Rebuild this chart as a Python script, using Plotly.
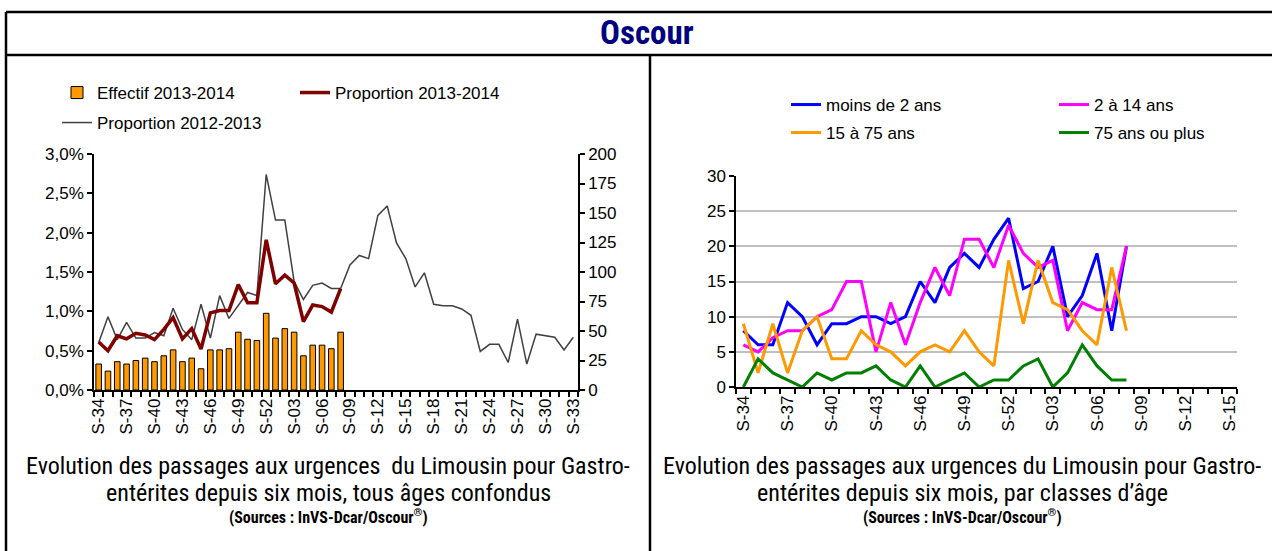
import plotly.graph_objects as go

W, H = 1272, 551

# ---------------- data ----------------
weeks_left = ['S-34', 'S-35', 'S-36', 'S-37', 'S-38', 'S-39', 'S-40', 'S-41', 'S-42', 'S-43',
              'S-44', 'S-45', 'S-46', 'S-47', 'S-48', 'S-49', 'S-50', 'S-51', 'S-52', 'S-01',
              'S-02', 'S-03', 'S-04', 'S-05', 'S-06', 'S-07', 'S-08', 'S-09', 'S-10', 'S-11',
              'S-12', 'S-13', 'S-14', 'S-15', 'S-16', 'S-17', 'S-18', 'S-19', 'S-20', 'S-21',
              'S-22', 'S-23', 'S-24', 'S-25', 'S-26', 'S-27', 'S-28', 'S-29', 'S-30', 'S-31',
              'S-32', 'S-33']
weeks_right = weeks_left[:34]

effectif_2013_2014 = [22, 16, 24, 22, 25, 27, 24, 29, 34, 24, 27, 18, 34, 34, 35, 49, 43, 42,
                      65, 44, 52, 49, 29, 38, 38, 35, 49]
proportion_2013_2014 = [0.61, 0.50, 0.69, 0.65, 0.72, 0.70, 0.64, 0.77, 0.92, 0.65, 0.78, 0.52,
                        0.98, 1.01, 1.01, 1.34, 1.11, 1.11, 1.91, 1.35, 1.46, 1.36, 0.87, 1.08,
                        1.06, 0.99, 1.29]
proportion_2012_2013 = [0.60, 0.93, 0.64, 0.86, 0.66, 0.66, 0.73, 0.69, 1.04, 0.77, 0.64, 1.09,
                        0.66, 1.20, 0.91, 1.07, 1.24, 1.20, 2.74, 2.16, 2.16, 1.38, 1.15, 1.33,
                        1.36, 1.29, 1.29, 1.59, 1.71, 1.67, 2.22, 2.34, 1.87, 1.67, 1.31, 1.49,
                        1.09, 1.07, 1.07, 1.03, 0.95, 0.49, 0.58, 0.58, 0.35, 0.90, 0.33, 0.71,
                        0.69, 0.67, 0.51, 0.67]

moins_2_ans = [8, 6, 6, 12, 10, 6, 9, 9, 10, 10, 9, 10, 15, 12, 17, 19, 17, 21, 24, 14, 15, 20,
               10, 13, 19, 8, 20]
de_2_a_14_ans = [6, 5, 7, 8, 8, 10, 11, 15, 15, 5, 12, 6, 12, 17, 13, 21, 21, 17, 23, 19, 17, 18,
                 8, 12, 11, 11, 20]
de_15_a_75_ans = [9, 2, 9, 2, 8, 10, 4, 4, 8, 6, 5, 3, 5, 6, 5, 8, 5, 3, 18, 9, 18, 12, 11, 8, 6,
                  17, 8]
plus_75_ans = [0, 4, 2, 1, 0, 2, 1, 2, 2, 3, 1, 0, 3, 0, 1, 2, 0, 1, 1, 3, 4, 0, 2, 6, 3, 1, 1]

left_ticks = [w if i % 3 == 0 else '' for i, w in enumerate(weeks_left)]
right_ticks = [w if i % 3 == 0 else '' for i, w in enumerate(weeks_right)]

caption_left = ['Evolution des passages aux urgences  du Limousin pour Gastro-',
                'entérites depuis six mois, tous âges confondus']
caption_right = ['Evolution des passages aux urgences du Limousin pour Gastro-',
                 'entérites depuis six mois, par classes d’âge']
source_text = '(Sources : InVS-Dcar/Oscour<sup>®</sup>)'

# ---------------- helpers ----------------
def px_x(x):
    return x / W

def px_y(y):
    return 1 - y / H

TICK_FONT = dict(family='Liberation Sans, Arial, sans-serif', size=17, color='black')
NARROW = 'Roboto Condensed, Liberation Sans Narrow, DejaVu Sans Condensed, Liberation Sans, sans-serif'

fig = go.Figure()

# ---------------- left chart ----------------
fig.add_trace(go.Bar(x=weeks_left[:len(effectif_2013_2014)], y=effectif_2013_2014,
                     name='Effectif 2013-2014', marker=dict(color='#FF9900', line=dict(color='black', width=1)),
                     width=0.6, xaxis='x', yaxis='y', legend='legend'))
fig.add_trace(go.Scatter(x=weeks_left, y=proportion_2012_2013, name='Proportion 2012-2013',
                         mode='lines', line=dict(color='#404040', width=1.5),
                         xaxis='x', yaxis='y2', legend='legend2'))
fig.add_trace(go.Scatter(x=weeks_left[:len(proportion_2013_2014)], y=proportion_2013_2014,
                         name='Proportion 2013-2014', mode='lines',
                         line=dict(color='#800000', width=3.5),
                         xaxis='x', yaxis='y2', legend='legend'))

# ---------------- right chart ----------------
for name, vals, col, lg in [('moins de 2 ans', moins_2_ans, '#0000FF', 'legend3'),
                            ('2 à 14 ans', de_2_a_14_ans, '#FF00FF', 'legend3'),
                            ('15 à 75 ans', de_15_a_75_ans, '#FF9900', 'legend4'),
                            ('75 ans ou plus', plus_75_ans, '#008000', 'legend4')]:
    fig.add_trace(go.Scatter(x=weeks_right[:len(vals)], y=vals, name=name, mode='lines',
                             line=dict(color=col, width=3), xaxis='x2', yaxis='y3', legend=lg))

axis_common = dict(showline=True, linecolor='black', linewidth=1.5, tickfont=TICK_FONT,
                   ticks='outside', ticklen=5, tickcolor='black', tickwidth=1.5, zeroline=False)

fig.update_layout(
    width=W, height=H, autosize=False,
    margin=dict(l=0, r=0, t=0, b=0, autoexpand=False),
    paper_bgcolor='white', plot_bgcolor='white',
    separators=', ',
    bargap=0.4,
    xaxis=dict(domain=[px_x(94), px_x(578)], type='category', categoryorder='array',
               categoryarray=weeks_left, tickmode='array', tickvals=weeks_left, ticktext=left_ticks,
               tickson='boundaries', tickangle=-90, anchor='y', range=[-0.5, 51.5],
               showgrid=False, **axis_common),
    yaxis=dict(domain=[px_y(390), px_y(154)], range=[0, 200], dtick=25, side='right',
               anchor='x', showgrid=False, **axis_common),
    yaxis2=dict(domain=[px_y(390), px_y(154)], range=[0, 3], dtick=0.5, tickformat='.1f',
                ticksuffix='%', overlaying='y', side='left', anchor='x', showgrid=False,
                **axis_common),
    xaxis2=dict(domain=[px_x(736), px_x(1237)], type='category', categoryorder='array',
                categoryarray=weeks_right, tickmode='array', tickvals=weeks_right,
                ticktext=right_ticks, tickson='boundaries', tickangle=-90, anchor='y3',
                range=[-0.5, 33.5], showgrid=False, **axis_common),
    yaxis3=dict(domain=[px_y(387), px_y(176)], range=[0, 30], dtick=5, anchor='x2',
                showgrid=True, gridcolor='#C0C0C0', gridwidth=1.5, **axis_common),
    legend=dict(orientation='h', x=px_x(57), y=px_y(93), xanchor='left', yanchor='middle',
                entrywidth=193, font=TICK_FONT, bgcolor='rgba(0,0,0,0)', traceorder='normal'),
    legend2=dict(orientation='h', x=px_x(57), y=px_y(123), xanchor='left', yanchor='middle',
                 font=TICK_FONT, bgcolor='rgba(0,0,0,0)'),
    legend3=dict(orientation='h', x=px_x(786), y=px_y(105), xanchor='left', yanchor='middle',
                 entrywidth=223, font=TICK_FONT, bgcolor='rgba(0,0,0,0)', traceorder='normal'),
    legend4=dict(orientation='h', x=px_x(786), y=px_y(133), xanchor='left', yanchor='middle',
                 entrywidth=223, font=TICK_FONT, bgcolor='rgba(0,0,0,0)', traceorder='normal'),
)

# ---------------- frame ----------------
frame = dict(type='line', xref='paper', yref='paper', line=dict(color='black', width=2.5))
fig.add_shape(x0=px_x(6), x1=1, y0=px_y(12), y1=px_y(12), **frame)
fig.add_shape(x0=px_x(6), x1=1, y0=px_y(55), y1=px_y(55), **frame)
fig.add_shape(x0=px_x(6), x1=px_x(6), y0=px_y(12), y1=0, **frame)
fig.add_shape(x0=px_x(650), x1=px_x(650), y0=px_y(55), y1=0, **frame)

# ---------------- texts ----------------
fig.add_annotation(text='<b>Oscour</b>', x=px_x(647), y=px_y(33), xref='paper', yref='paper',
                   xanchor='center', yanchor='middle', showarrow=False,
                   font=dict(family=NARROW, size=33, color='#000080'))

cap_font = dict(family=NARROW, size=24, color='black')
src_font = dict(family=NARROW, size=16, color='black')
for cx, lines in [(328, caption_left), (962, caption_right)]:
    for ly, line in zip([466, 493], lines):
        fig.add_annotation(text=line, x=px_x(cx), y=px_y(ly), xref='paper', yref='paper',
                           showarrow=False, xanchor='center', yanchor='middle', font=cap_font)
    fig.add_annotation(text='<b>' + source_text + '</b>', x=px_x(cx), y=px_y(516),
                       xref='paper', yref='paper', showarrow=False, xanchor='center',
                       yanchor='middle', font=src_font)

fig.write_html('out.html', config={'displayModeBar': False},
               post_script="document.body.style.margin='0px';")
